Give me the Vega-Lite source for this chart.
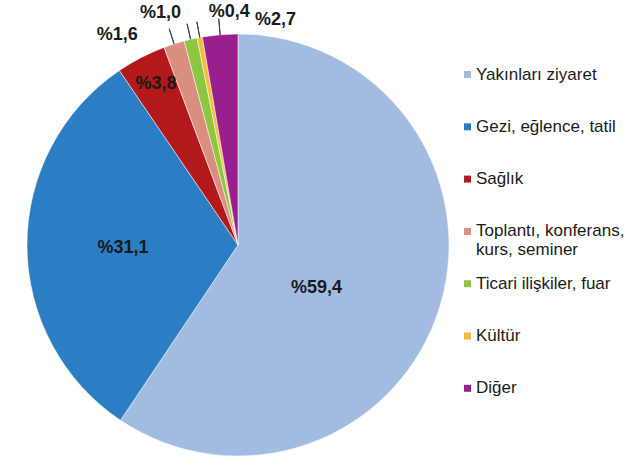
{
  "$schema": "https://vega.github.io/schema/vega-lite/v6.json",
  "width": 422,
  "height": 422,
  "autosize": {"type": "none"},
  "padding": {"left": 27, "top": 34, "right": 195, "bottom": 3},
  "background": "#ffffff",
  "config": {"view": {"stroke": null}, "font": "Liberation Sans"},
  "data": {"values": [
    {"category": "Yakınları ziyaret", "value": 59.4, "label": "%59,4", "order": 1},
    {"category": "Gezi, eğlence, tatil", "value": 31.1, "label": "%31,1", "order": 2},
    {"category": "Sağlık", "value": 3.8, "label": "%3,8", "order": 3},
    {"category": "Toplantı, konferans, kurs, seminer", "value": 1.6, "label": "%1,6", "order": 4},
    {"category": "Ticari ilişkiler, fuar", "value": 1.0, "label": "%1,0", "order": 5},
    {"category": "Kültür", "value": 0.4, "label": "%0,4", "order": 6},
    {"category": "Diğer", "value": 2.7, "label": "%2,7", "order": 7}
  ]},
  "transform": [
    {"window": [{"op": "sum", "field": "value", "as": "cum"}], "sort": [{"field": "order"}], "frame": [null, 0]},
    {"calculate": "datum.cum - datum.value / 2", "as": "mid"}
  ],
  "layer": [
    {
      "mark": {"type": "arc", "stroke": "#ffffff", "strokeWidth": 0.5},
      "encoding": {
        "theta": {"field": "value", "type": "quantitative", "stack": true, "scale": {"domain": [0, 100]}},
        "order": {"field": "order", "type": "quantitative"},
        "color": {
          "field": "category", "type": "nominal",
          "scale": {
            "domain": ["Yakınları ziyaret", "Gezi, eğlence, tatil", "Sağlık", "Toplantı, konferans, kurs, seminer", "Ticari ilişkiler, fuar", "Kültür", "Diğer"],
            "range": ["#A1BCE0", "#2B7EC3", "#B3191B", "#D98E80", "#8DC63F", "#F5BC3A", "#9A1F8E"]
          },
          "legend": {
            "orient": "none", "legendX": 432, "legendY": 32, "title": null,
            "symbolType": "square", "symbolSize": 49, "symbolStrokeWidth": 0,
            "labelFontSize": 17, "labelColor": "#1a1a1a", "labelFont": "Liberation Sans",
            "labelOffset": 0, "rowPadding": 15.3, "labelLimit": 300,
            "labelExpr": "datum.label == 'Toplantı, konferans, kurs, seminer' ? ['Toplantı, konferans,', 'kurs, seminer'] : [datum.label, ' ']"
          }
        }
      }
    },
    {
      "transform": [{"filter": "datum.order >= 4"}],
      "mark": {"type": "arc", "radius": 211, "radius2": 227, "stroke": "#404040", "strokeWidth": 1, "fill": null},
      "encoding": {
        "theta": {"field": "mid", "type": "quantitative"},
        "theta2": {"field": "mid"}
      }
    },
    {
      "transform": [{"filter": "datum.order == 1"}],
      "mark": {"type": "text", "radius": 93.5, "dx": -11, "dy": 16, "fontSize": 18, "fontWeight": "bold", "fill": "#1a1a1a"},
      "encoding": {"theta": {"field": "mid", "type": "quantitative"}, "text": {"field": "label"}}
    },
    {
      "transform": [{"filter": "datum.order == 2"}],
      "mark": {"type": "text", "radius": 115, "dy": 3, "fontSize": 18, "fontWeight": "bold", "fill": "#1a1a1a"},
      "encoding": {"theta": {"field": "mid", "type": "quantitative"}, "text": {"field": "label"}}
    },
    {
      "transform": [{"filter": "datum.order == 3"}],
      "mark": {"type": "text", "radius": 187, "dx": 4, "dy": 5, "fontSize": 18, "fontWeight": "bold", "fill": "#1a1a1a"},
      "encoding": {"theta": {"field": "mid", "type": "quantitative"}, "text": {"field": "label"}}
    },
    {
      "transform": [{"filter": "datum.order == 4"}],
      "mark": {"type": "text", "radius": 230, "dx": -51, "dy": 9, "fontSize": 18, "fontWeight": "bold", "fill": "#1a1a1a"},
      "encoding": {"theta": {"field": "mid", "type": "quantitative"}, "text": {"field": "label"}}
    },
    {
      "transform": [{"filter": "datum.order == 5"}],
      "mark": {"type": "text", "radius": 230, "dx": -26, "dy": -8, "fontSize": 18, "fontWeight": "bold", "fill": "#1a1a1a"},
      "encoding": {"theta": {"field": "mid", "type": "quantitative"}, "text": {"field": "label"}}
    },
    {
      "transform": [{"filter": "datum.order == 6"}],
      "mark": {"type": "text", "radius": 230, "dx": 33, "dy": -7, "fontSize": 18, "fontWeight": "bold", "fill": "#1a1a1a"},
      "encoding": {"theta": {"field": "mid", "type": "quantitative"}, "text": {"field": "label"}}
    },
    {
      "transform": [{"filter": "datum.order == 7"}],
      "mark": {"type": "text", "radius": 230, "dx": 57, "dy": 4, "fontSize": 18, "fontWeight": "bold", "fill": "#1a1a1a"},
      "encoding": {"theta": {"field": "mid", "type": "quantitative"}, "text": {"field": "label"}}
    }
  ]
}
